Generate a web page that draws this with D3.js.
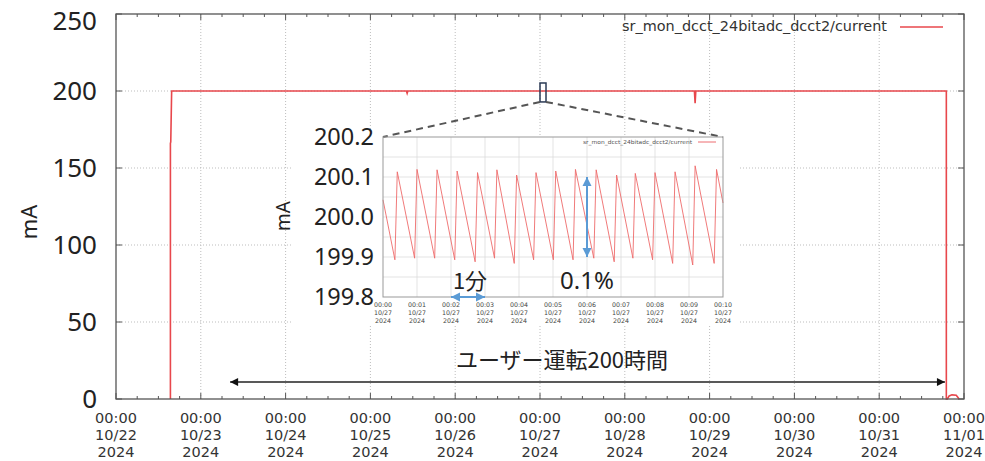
<!DOCTYPE html>
<html>
<head>
    <meta charset="utf-8">
    <title>DCCT current</title>
    <script src="https://d3js.org/d3.v7.min.js"></script>
    <style>
        body { margin: 0; background: #fff; }
        svg { display: block; }
    </style>
</head>
<body>
<script>
    // main trend: hours since 10/22 00:00 and beam current (mA)
    const mainHours   = [15.4, 15.4, 15.5, 15.75, 82.2, 82.4, 82.6, 163.7, 163.9, 164.1, 235.0, 235.0, 235.3, 235.8, 236.6, 237.8, 238.3, 238.6];
    const mainCurrent = [0, 166, 167, 200, 200, 198.5, 200, 200, 192, 200, 200, 0, 0, 2.0, 2.7, 2.5, 1.0, 0];

    // inset: top-up sawtooth, minutes after 10/27 00:00
    const peakMinutes  = [0.42, 1.00, 1.59, 2.18, 2.78, 3.35, 3.93, 4.50, 5.08, 5.66, 6.27, 6.87, 7.42, 8.00, 8.59, 9.18, 9.81];
    const peakValues   = [200.113, 200.119, 200.118, 200.115, 200.111, 200.118, 200.105, 200.111, 200.115, 200.119, 200.118, 200.105, 200.109, 200.111, 200.113, 200.128, 200.119];
    const troughValues = [199.893, 199.897, 199.897, 199.893, 199.888, 199.897, 199.884, 199.893, 199.893, 199.893, 199.897, 199.888, 199.897, 199.893, 199.884, 199.880, 199.884];
    const insetStart = 200.043, insetEnd = 200.035;

    const dayLabels = ["10/22", "10/23", "10/24", "10/25", "10/26", "10/27", "10/28", "10/29", "10/30", "10/31", "11/01"];
    const yTicks = [0, 50, 100, 150, 200, 250];
    const insetYTicks = ["199.8", "199.9", "200.0", "200.1", "200.2"];
    const seriesName = "sr_mon_dcct_24bitadc_dcct2/current";

    const W = 985, H = 461;
    const red = "#e8474c";
    const blue = "#5b9bd5";

    const svg = d3.select("body").append("svg").attr("width", W).attr("height", H);

    // ---------- main chart ----------
    const x = d3.scaleLinear().domain([0, 240]).range([116, 964]);
    const y = d3.scaleLinear().domain([0, 250]).range([399, 14]);

    // grid
    const grid = svg.append("g").attr("stroke", "#bdbdbd").attr("stroke-dasharray", "1,2");
    d3.range(1, 10).forEach(d => {
        grid.append("line").attr("x1", x(d * 24)).attr("x2", x(d * 24)).attr("y1", y(0)).attr("y2", y(250));
    });
    yTicks.filter(v => v > 0 && v < 250).forEach(v => {
        grid.append("line").attr("x1", x(0)).attr("x2", x(240)).attr("y1", y(v)).attr("y2", y(v));
    });

    // ticks (inward, mirrored)
    const ticks = svg.append("g").attr("stroke", "#555").attr("stroke-width", 1);
    d3.range(0, 241, 6).forEach(h => {
        const len = h % 24 === 0 ? 6 : 3;
        ticks.append("line").attr("x1", x(h)).attr("x2", x(h)).attr("y1", y(0)).attr("y2", y(0) - len);
        ticks.append("line").attr("x1", x(h)).attr("x2", x(h)).attr("y1", y(250)).attr("y2", y(250) + len);
    });
    yTicks.forEach(v => {
        ticks.append("line").attr("x1", x(0)).attr("x2", x(0) + 6).attr("y1", y(v)).attr("y2", y(v));
        ticks.append("line").attr("x1", x(240)).attr("x2", x(240) - 6).attr("y1", y(v)).attr("y2", y(v));
    });

    // legend
    svg.append("text").attr("x", 887).attr("y", 31).attr("text-anchor", "end")
        .attr("font-family", "DejaVu Sans").attr("font-size", 13.5).attr("fill", "#333")
        .attr("textLength", 265).attr("lengthAdjust", "spacingAndGlyphs")
        .text(seriesName);
    svg.append("line").attr("x1", 900).attr("x2", 943).attr("y1", 27).attr("y2", 27)
        .attr("stroke", red).attr("stroke-width", 1.5);

    // data line
    const mainPts = mainHours.map((h, i) => [h, mainCurrent[i]]);
    svg.append("path").datum(mainPts)
        .attr("d", d3.line().x(d => x(d[0])).y(d => y(d[1])))
        .attr("fill", "none").attr("stroke", red).attr("stroke-width", 1.6);

    // frame
    svg.append("rect").attr("x", x(0)).attr("y", y(250)).attr("width", x(240) - x(0)).attr("height", y(0) - y(250))
        .attr("fill", "none").attr("stroke", "#555").attr("stroke-width", 1.3);

    // y labels
    svg.append("g").selectAll("text").data(yTicks).join("text")
        .attr("x", 97).attr("y", d => Math.max(y(d), 21)).attr("dy", "0.36em")
        .attr("text-anchor", "end").attr("font-family", "Noto Sans").attr("font-size", 26).attr("fill", "#222")
        .text(d => d);
    svg.append("text").attr("transform", "translate(37,222) rotate(-90)").attr("text-anchor", "middle")
        .attr("font-family", "Noto Sans").attr("font-size", 22).attr("fill", "#222").text("mA");

    // x labels
    const xl = svg.append("g").attr("font-family", "DejaVu Sans").attr("font-size", 14.5)
        .attr("fill", "#333").attr("text-anchor", "middle");
    dayLabels.forEach((lab, i) => {
        const t = xl.append("text").attr("x", x(i * 24)).attr("y", 423);
        t.append("tspan").attr("x", x(i * 24)).text("00:00");
        t.append("tspan").attr("x", x(i * 24)).attr("dy", 17).text(lab);
        t.append("tspan").attr("x", x(i * 24)).attr("dy", 17).text("2024");
    });

    // 200 hour annotation
    const defs = svg.append("defs");
    defs.append("marker").attr("id", "blk").attr("viewBox", "0 0 10 10").attr("refX", 10).attr("refY", 5)
        .attr("markerWidth", 10).attr("markerHeight", 8).attr("markerUnits", "userSpaceOnUse").attr("orient", "auto-start-reverse")
        .append("path").attr("d", "M0,0L10,5L0,10Z").attr("fill", "#111");
    svg.append("line").attr("x1", x(32.3)).attr("x2", x(234.6)).attr("y1", y(11)).attr("y2", y(11))
        .attr("stroke", "#222").attr("stroke-width", 1.5)
        .attr("marker-start", "url(#blk)").attr("marker-end", "url(#blk)");
    svg.append("text").attr("x", 562).attr("y", 368).attr("text-anchor", "middle")
        .attr("font-family", "Noto Sans CJK JP").attr("font-size", 22).attr("fill", "#222")
        .text("ユーザー運転200時間");

    // ---------- inset ----------
    const ix = d3.scaleLinear().domain([0, 10]).range([383, 723]);
    const iy = d3.scaleLinear().domain([199.8, 200.2]).range([297, 137]);

    svg.append("rect").attr("x", 292).attr("y", 136).attr("width", 446).attr("height", 190).attr("fill", "#fff");

    // zoom marker & dashed connectors
    svg.append("rect").attr("x", x(120)).attr("y", y(205.2)).attr("width", x(121.7) - x(120)).attr("height", y(192.9) - y(205.2))
        .attr("fill", "none").attr("stroke", "#2b3a55").attr("stroke-width", 1.5);
    [[120, 0], [121.7, 10]].forEach(p => {
        svg.append("line").attr("x1", x(p[0])).attr("y1", y(192.9)).attr("x2", ix(p[1])).attr("y2", iy(200.2))
            .attr("stroke", "#555").attr("stroke-width", 2).attr("stroke-dasharray", "7,5");
    });

    const ig = svg.append("g").attr("stroke", "#dcdcdc").attr("stroke-width", 0.8);
    d3.range(1, 10).forEach(m => {
        ig.append("line").attr("x1", ix(m)).attr("x2", ix(m)).attr("y1", iy(199.8)).attr("y2", iy(200.2));
    });
    d3.range(1, 8).forEach(k => {
        const v = 199.8 + k * 0.05;
        ig.append("line").attr("x1", ix(0)).attr("x2", ix(10)).attr("y1", iy(v)).attr("y2", iy(v));
    });

    const insetPts = [[0, insetStart]];
    peakMinutes.forEach((m, i) => {
        insetPts.push([m - 0.07, troughValues[i]]);
        insetPts.push([m, peakValues[i]]);
    });
    insetPts.push([10, insetEnd]);
    svg.append("path").datum(insetPts)
        .attr("d", d3.line().x(d => ix(d[0])).y(d => iy(d[1])))
        .attr("fill", "none").attr("stroke", "#ee6b6b").attr("stroke-width", 0.9);

    svg.append("rect").attr("x", ix(0)).attr("y", iy(200.2)).attr("width", ix(10) - ix(0)).attr("height", iy(199.8) - iy(200.2))
        .attr("fill", "none").attr("stroke", "#999").attr("stroke-width", 1);

    // inset legend
    svg.append("text").attr("x", 692).attr("y", 144).attr("text-anchor", "end")
        .attr("font-family", "DejaVu Sans").attr("font-size", 5.5).attr("fill", "#555")
        .attr("textLength", 109).attr("lengthAdjust", "spacingAndGlyphs").text(seriesName);
    svg.append("line").attr("x1", 698).attr("x2", 716).attr("y1", 142).attr("y2", 142)
        .attr("stroke", red).attr("stroke-width", 0.8);

    // inset labels
    svg.append("g").selectAll("text").data(insetYTicks).join("text")
        .attr("x", 374).attr("y", d => iy(+d)).attr("dy", "0.36em").attr("text-anchor", "end")
        .attr("font-family", "Noto Sans").attr("font-size", 23.5).attr("fill", "#222").text(d => d);
    svg.append("text").attr("transform", "translate(290,216) rotate(-90)").attr("text-anchor", "middle")
        .attr("font-family", "Noto Sans").attr("font-size", 19).attr("fill", "#222").text("mA");

    const ixl = svg.append("g").attr("font-family", "DejaVu Sans").attr("font-size", 6.3)
        .attr("fill", "#444").attr("text-anchor", "middle");
    d3.range(0, 11).forEach(m => {
        const t = ixl.append("text").attr("x", ix(m)).attr("y", 307);
        t.append("tspan").attr("x", ix(m)).text("00:" + String(m).padStart(2, "0"));
        t.append("tspan").attr("x", ix(m)).attr("dy", 8).text("10/27");
        t.append("tspan").attr("x", ix(m)).attr("dy", 8).text("2024");
    });

    // blue arrows
    defs.append("marker").attr("id", "blu").attr("viewBox", "0 0 10 10").attr("refX", 10).attr("refY", 5)
        .attr("markerWidth", 9).attr("markerHeight", 11).attr("markerUnits", "userSpaceOnUse").attr("orient", "auto-start-reverse")
        .append("path").attr("d", "M0,0L10,5L0,10Z").attr("fill", blue);
    svg.append("line").attr("x1", ix(6.0)).attr("x2", ix(6.0)).attr("y1", iy(200.1)).attr("y2", iy(199.9))
        .attr("stroke", blue).attr("stroke-width", 2)
        .attr("marker-start", "url(#blu)").attr("marker-end", "url(#blu)");
    svg.append("line").attr("x1", ix(2.0)).attr("x2", ix(3.0)).attr("y1", iy(199.8)).attr("y2", iy(199.8))
        .attr("stroke", blue).attr("stroke-width", 2)
        .attr("marker-start", "url(#blu)").attr("marker-end", "url(#blu)");

    svg.append("text").attr("x", 470).attr("y", 289).attr("text-anchor", "middle")
        .attr("font-family", "Noto Sans CJK JP").attr("font-size", 22).attr("fill", "#222").text("1分");
    svg.append("text").attr("x", 587).attr("y", 289).attr("text-anchor", "middle")
        .attr("font-family", "Noto Sans").attr("font-size", 24).attr("fill", "#222").text("0.1%");
</script>
</body>
</html>
